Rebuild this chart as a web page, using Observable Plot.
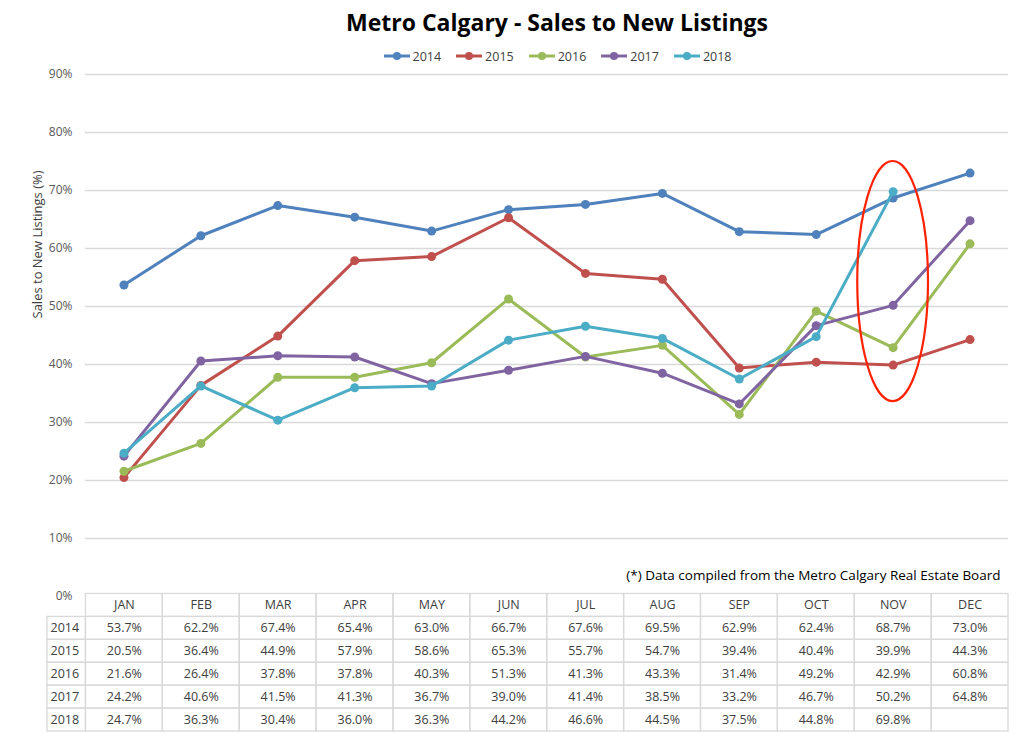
<!DOCTYPE html>
<html>
<head>
<meta charset="utf-8">
<script src="https://cdn.jsdelivr.net/npm/d3@7"></script>
<script src="https://cdn.jsdelivr.net/npm/@observablehq/plot@0.6"></script>
<style>
  html, body { margin: 0; padding: 0; background: #fff; }
  #root { width: 1024px; height: 739px; position: relative; overflow: hidden; font-family: "Open Sans", "Liberation Sans", sans-serif; }
  #title { height: 44px; line-height: 44px; padding-left: 90px; text-align: center; font-family: "Liberation Sans Narrow", "Open Sans", sans-serif; font-weight: bold; font-size: 23px; color: #000; }
  #legend { height: 24px; padding-left: 90px; display: flex; justify-content: center; align-items: center; gap: 14px; font-family: "Liberation Sans Narrow", "Open Sans", sans-serif; font-size: 12.5px; color: #404040; }
  #legend .item { display: flex; align-items: center; gap: 2px; }
  #chart svg, #table svg { display: block; }
  #table { margin-top: -13px; position: relative; }
</style>
</head>
<body>
<div id="root">
  <div id="title"></div>
  <div id="legend"></div>
  <div id="chart"></div>
  <div id="table"></div>
</div>
<script>
const titleText = "Metro Calgary - Sales to New Listings";
const yAxisLabel = "Sales to New Listings (%)";
const captionText = "(*) Data compiled from the Metro Calgary Real Estate Board";
const months = ["JAN","FEB","MAR","APR","MAY","JUN","JUL","AUG","SEP","OCT","NOV","DEC"];
const years = ["2014","2015","2016","2017","2018"];
const v2014 = [53.7, 62.2, 67.4, 65.4, 63.0, 66.7, 67.6, 69.5, 62.9, 62.4, 68.7, 73.0];
const v2015 = [20.5, 36.4, 44.9, 57.9, 58.6, 65.3, 55.7, 54.7, 39.4, 40.4, 39.9, 44.3];
const v2016 = [21.6, 26.4, 37.8, 37.8, 40.3, 51.3, 41.3, 43.3, 31.4, 49.2, 42.9, 60.8];
const v2017 = [24.2, 40.6, 41.5, 41.3, 36.7, 39.0, 41.4, 38.5, 33.2, 46.7, 50.2, 64.8];
const v2018 = [24.7, 36.3, 30.4, 36.0, 36.3, 44.2, 46.6, 44.5, 37.5, 44.8, 69.8, null];
const colors = ["#4f81bd", "#c0504d", "#9bbb59", "#8064a2", "#4bacc6"];
const yTicks = [0, 10, 20, 30, 40, 50, 60, 70, 80, 90];
const highlightMonth = "NOV";
const highlightRange = [33.6, 75.0];

const seriesValues = [v2014, v2015, v2016, v2017, v2018];
const data = [];
years.forEach((yr, k) => months.forEach((m, i) => data.push({year: yr, month: m, value: seriesValues[k][i]})));

document.getElementById("title").textContent = titleText;

// legend
const legend = document.getElementById("legend");
years.forEach((yr, k) => {
  const it = document.createElement("div");
  it.className = "item";
  it.innerHTML = `<svg width="28" height="10"><line x1="1" y1="5" x2="27" y2="5" stroke="${colors[k]}" stroke-width="3"/><circle cx="14" cy="5" r="4" fill="${colors[k]}"/></svg><span>${yr}</span>`;
  legend.appendChild(it);
});

const font = "'Open Sans', 'Liberation Sans', sans-serif";

const chart = Plot.plot({
  width: 1024,
  height: 538,
  marginTop: 6,
  marginBottom: 10,
  marginLeft: 85,
  marginRight: 16,
  style: {fontFamily: font, fontSize: "12px", color: "#595959", background: "transparent", overflow: "visible"},
  x: {type: "point", domain: months, padding: 0.5, round: false, axis: null},
  y: {domain: [0, 90], ticks: yTicks, tickFormat: d => d + "%", tickSize: 0, tickPadding: 13, label: null},
  color: {domain: years, range: colors},
  marks: [
    Plot.ruleY(yTicks.filter(d => d > 0), {stroke: "#d9d9d9", strokeWidth: 1.3}),
    Plot.text([yAxisLabel], {frameAnchor: "left", rotate: -90, dx: -48, dy: -17, fill: "#404040", fontSize: 13}),
    Plot.text([captionText], {frameAnchor: "bottom-right", textAnchor: "end", lineAnchor: "middle", dx: -8, dy: -21, fill: "#000", fontSize: 13.5}),
    ...years.map((yr, k) => [
      Plot.line(data.filter(d => d.year === yr && d.value != null), {x: "month", y: "value", stroke: colors[k], strokeWidth: 3}),
      Plot.dot(data.filter(d => d.year === yr && d.value != null), {x: "month", y: "value", fill: colors[k], r: 4.5})
    ]).flat(),
    (index, scales) => {
      const cx = scales.x(highlightMonth);
      const step = scales.x(months[1]) - scales.x(months[0]);
      const y1 = scales.y(highlightRange[1]);
      const y0 = scales.y(highlightRange[0]);
      const el = document.createElementNS("http://www.w3.org/2000/svg", "ellipse");
      el.setAttribute("cx", cx);
      el.setAttribute("cy", (y0 + y1) / 2);
      el.setAttribute("rx", step * 0.46);
      el.setAttribute("ry", (y0 - y1) / 2);
      el.setAttribute("fill", "none");
      el.setAttribute("stroke", "#ff2200");
      el.setAttribute("stroke-width", 2.2);
      return el;
    }
  ]
});
document.getElementById("chart").appendChild(chart);

// table
const rows = ["head", ...years];
const cells = [];
months.forEach((m, i) => cells.push({row: "head", x1: i, x2: i + 1, text: m, kind: "h"}));
years.forEach((yr, k) => {
  cells.push({row: yr, x1: -0.5, x2: 0, text: yr, kind: "y"});
  months.forEach((m, i) => {
    const v = seriesValues[k][i];
    cells.push({row: yr, x1: i, x2: i + 1, text: v == null ? "" : v.toFixed(1) + "%", kind: "v"});
  });
});

const table = Plot.plot({
  width: 1024,
  height: 146,
  marginTop: 0.5,
  marginBottom: 8,
  marginLeft: 47,
  marginRight: 16,
  style: {fontFamily: font, fontSize: "12.5px", color: "#404040", background: "transparent", overflow: "visible"},
  x: {domain: [-0.5, 12], axis: null},
  y: {type: "band", domain: rows, padding: 0, round: false, axis: null},
  marks: [
    Plot.barX(cells, {x1: "x1", x2: "x2", y: "row", fill: "none", stroke: "#d9d9d9", strokeWidth: 1.3}),
    Plot.text(cells.filter(d => d.kind !== "y"), {x: d => (d.x1 + d.x2) / 2, y: "row", text: "text", fill: "#404040"}),
    Plot.text(cells.filter(d => d.kind === "y"), {x: "x1", y: "row", text: "text", textAnchor: "start", dx: 3, fill: "#404040"})
  ]
});
document.getElementById("table").appendChild(table);
</script>
</body>
</html>
